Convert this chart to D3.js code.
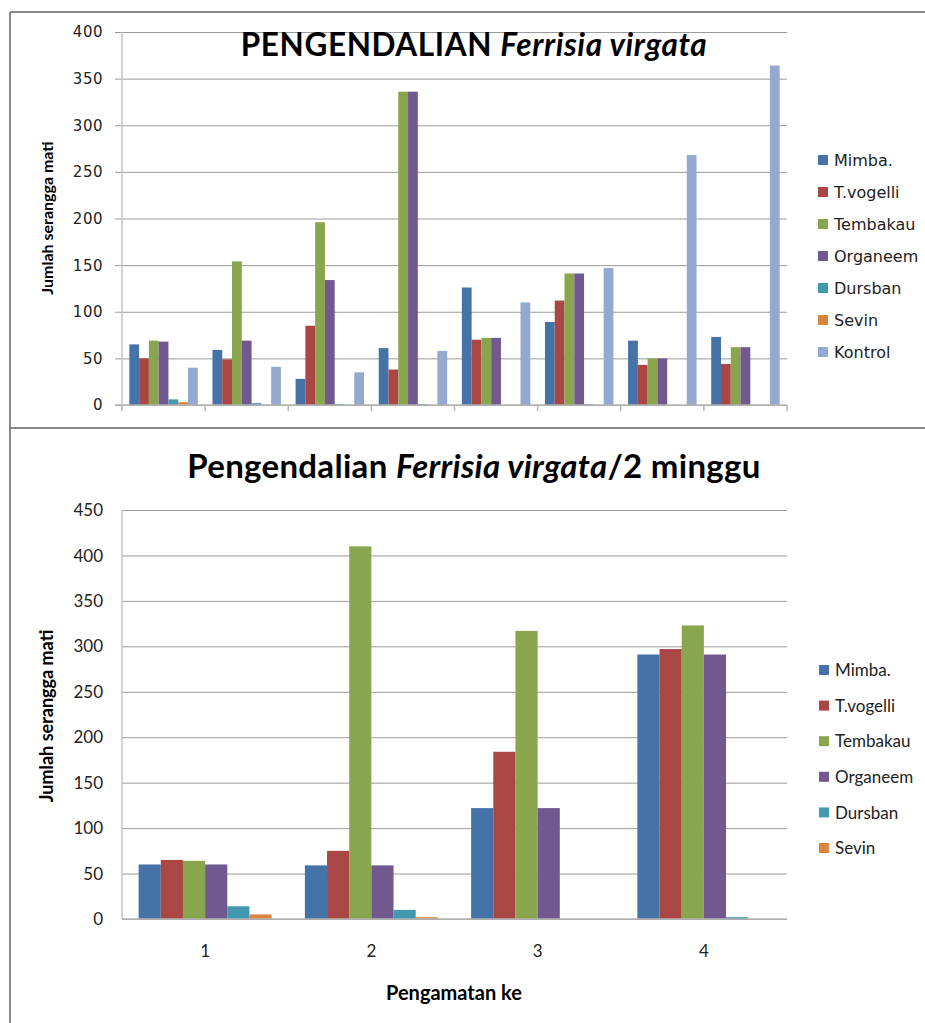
<!DOCTYPE html>
<html>
<head>
<meta charset="utf-8">
<script src="https://cdn.jsdelivr.net/npm/d3@7"></script>
<style>
  body { margin: 0; background: #fff; }
  svg { display: block; }
</style>
</head>
<body>
<svg width="925" height="1023"></svg>
<script>
// series names + excel 2007 default colours
const seriesNames = ["Mimba.", "T.vogelli", "Tembakau", "Organeem", "Dursban", "Sevin", "Kontrol"];
const seriesColors = ["#4572A7", "#AA4643", "#89A54E", "#71588F", "#4198AF", "#DB843D", "#93A9CF"];

// chart 1 : 8 observations, no category labels shown
const topCategories = ["1", "2", "3", "4", "5", "6", "7", "8"];
const mimbaTop    = [65, 59, 28, 61, 126, 89, 69, 73];
const tvogelliTop = [50, 49, 85, 38, 70, 112, 43, 44];
const tembakauTop = [69, 154, 196, 336, 72, 141, 50, 62];
const organeemTop = [68, 69, 134, 336, 72, 141, 50, 62];
const dursbanTop  = [6, 2, 1, 1, 0, 1, 0, 0];
const sevinTop    = [3, 0, 0, 0, 0, 0, 0, 0];
const kontrolTop  = [40, 41, 35, 58, 110, 147, 268, 364];
const topTicks = [0, 50, 100, 150, 200, 250, 300, 350, 400];

// chart 2 : per 2 weeks
const bottomCategories = ["1", "2", "3", "4"];
const mimbaBottom    = [60, 59, 122, 291];
const tvogelliBottom = [65, 75, 184, 297];
const tembakauBottom = [64, 410, 317, 323];
const organeemBottom = [60, 59, 122, 291];
const dursbanBottom  = [14, 10, 0, 2];
const sevinBottom    = [5, 2, 0, 0];
const bottomTicks = [0, 50, 100, 150, 200, 250, 300, 350, 400, 450];

const svg = d3.select("svg");

// frame lines
svg.append("rect").attr("width", 925).attr("height", 1023).attr("fill", "#fff");
const frame = svg.append("g").attr("stroke", "#888").attr("stroke-width", 2);
frame.append("line").attr("x1", 10).attr("y1", 12).attr("x2", 10).attr("y2", 1023);
frame.append("line").attr("x1", 10).attr("y1", 12).attr("x2", 925).attr("y2", 12);
frame.append("line").attr("x1", 10).attr("y1", 428).attr("x2", 925).attr("y2", 428);

/**
 * draws one clustered column chart
 */
function drawChart(opt) {
  const g = svg.append("g");
  const names = seriesNames.slice(0, opt.series.length);

  const y = d3.scaleLinear().domain([0, opt.max]).range([opt.bottom, opt.top]);
  const x0 = d3.scaleBand().domain(opt.categories).range([opt.left, opt.right]);
  // gap width 150% like excel
  const pad = x0.bandwidth() * 0.75 / (names.length + 1.5);
  const x1 = d3.scaleBand().domain(names).range([pad, x0.bandwidth() - pad]);

  // gridlines
  const grid = d3.axisLeft(y).tickValues(opt.ticks)
    .tickSize(-(opt.right - opt.left)).tickFormat("");
  g.append("g")
    .attr("transform", "translate(" + opt.left + ",0)")
    .call(grid)
    .call(s => s.select(".domain").remove())
    .call(s => s.selectAll(".tick line").attr("stroke", "#9a9a9a").attr("x1", opt.tickOut ? -7 : 0));

  // tick labels
  g.append("g")
    .selectAll("text")
    .data(opt.ticks)
    .enter().append("text")
    .attr("x", 103)
    .attr("y", d => y(d))
    .attr("dy", "0.36em")
    .attr("text-anchor", "end")
    .attr("font-family", opt.tickFont)
    .attr("font-size", opt.tickSize)
    .attr("letter-spacing", opt.tickSpacing || 0)
    .attr("fill", "#222")
    .text(d => d);

  // bars
  const groups = g.append("g").selectAll("g")
    .data(opt.categories)
    .enter().append("g")
    .attr("transform", d => "translate(" + x0(d) + ",0)");

  groups.selectAll("rect")
    .data((d, i) => names.map((n, k) => ({ name: n, value: opt.series[k][i], color: seriesColors[k] })))
    .enter().append("rect")
    .attr("x", d => x1(d.name))
    .attr("width", x1.bandwidth())
    .attr("y", d => y(d.value))
    .attr("height", d => y(0) - y(d.value))
    .attr("fill", d => d.color);

  // axis lines
  g.append("line")
    .attr("x1", opt.left).attr("x2", opt.left)
    .attr("y1", opt.top).attr("y2", opt.bottom)
    .attr("stroke", "#c4c4c4").attr("stroke-width", 1.5);
  g.append("line")
    .attr("x1", opt.left - (opt.tickOut ? 7 : 0)).attr("x2", opt.right)
    .attr("y1", y(0)).attr("y2", y(0))
    .attr("stroke", "#b4b4b4").attr("stroke-width", 1.5);

  if (opt.catTicks) {
    g.append("g").selectAll("line")
      .data(opt.categories.concat(["end"]))
      .enter().append("line")
      .attr("x1", (d, i) => opt.left + i * x0.step())
      .attr("x2", (d, i) => opt.left + i * x0.step())
      .attr("y1", y(0)).attr("y2", y(0) + 6)
      .attr("stroke", "#b4b4b4").attr("stroke-width", 1.5);
  }

  if (opt.catLabels) {
    g.append("g").selectAll("text")
      .data(opt.categories)
      .enter().append("text")
      .attr("x", d => x0(d) + x0.bandwidth() / 2)
      .attr("y", y(0) + 32)
      .attr("dy", "0.36em")
      .attr("text-anchor", "middle")
      .attr("font-family", opt.tickFont)
      .attr("font-size", opt.tickSize)
      .attr("fill", "#222")
      .text(d => d);
  }

  // y title
  g.append("text")
    .attr("transform", "translate(" + 47 + "," + opt.yTitleY + ") rotate(-90)")
    .attr("text-anchor", "middle")
    .attr("dy", "0.36em")
    .attr("font-family", "Lato")
    .attr("font-weight", "bold")
    .attr("font-size", opt.yTitleSize)
    .text("Jumlah serangga mati");

  // chart title
  const t = g.append("text")
    .attr("x", 474)
    .attr("y", opt.titleY)
    .attr("text-anchor", "middle")
    .attr("font-family", "Lato")
    .attr("font-weight", "bold")
    .attr("font-size", opt.titleSize)
    .attr("letter-spacing", opt.titleSpacing || 0);
  t.append("tspan").text(opt.title[0]);
  t.append("tspan").attr("font-style", "italic").text(opt.title[1]);
  t.append("tspan").text(opt.title[2]);

  // legend
  const leg = g.append("g").selectAll("g")
    .data(names)
    .enter().append("g")
    .attr("transform", (d, i) => "translate(" + opt.legendX + "," + (opt.legendY + i * opt.legendStep) + ")");
  leg.append("rect")
    .attr("x", 0).attr("y", -5)
    .attr("width", 10).attr("height", 10)
    .attr("fill", (d, i) => seriesColors[i]);
  leg.append("text")
    .attr("x", 16)
    .attr("dy", "0.36em")
    .attr("font-family", opt.legendFont)
    .attr("font-size", opt.legendSize)
    .attr("fill", "#222")
    .text(d => d);

  return g;
}

drawChart({
  categories: topCategories,
  series: [mimbaTop, tvogelliTop, tembakauTop, organeemTop, dursbanTop, sevinTop, kontrolTop],
  max: 400, ticks: topTicks,
  left: 122, right: 787, top: 32, bottom: 405,
  tickOut: true, catTicks: true, catLabels: false,
  tickFont: "DejaVu Sans", tickSize: 15, tickSpacing: 0.5,
  legendFont: "DejaVu Sans", legendSize: 16,
  legendX: 818, legendY: 160, legendStep: 32,
  yTitleY: 218, yTitleSize: 16,
  title: ["PENGENDALIAN ", "Ferrisia virgata", ""], titleY: 56, titleSize: 31.5, titleSpacing: 0.6
});

const bottom = drawChart({
  categories: bottomCategories,
  series: [mimbaBottom, tvogelliBottom, tembakauBottom, organeemBottom, dursbanBottom, sevinBottom],
  max: 450, ticks: bottomTicks,
  left: 122, right: 787, top: 510, bottom: 919,
  tickOut: false, catTicks: false, catLabels: true,
  tickFont: "Lato", tickSize: 17,
  legendFont: "Lato", legendSize: 17,
  legendX: 819, legendY: 670, legendStep: 35.6,
  yTitleY: 716, yTitleSize: 18,
  title: ["Pengendalian ", "Ferrisia virgata", "/2 minggu"], titleY: 478, titleSize: 33, titleSpacing: 0.3
});

// x axis title of lower chart
bottom.append("text")
  .attr("x", 454)
  .attr("y", 993)
  .attr("dy", "0.36em")
  .attr("text-anchor", "middle")
  .attr("font-family", "Lato")
  .attr("font-weight", "bold")
  .attr("font-size", 20)
  .text("Pengamatan ke");
</script>
</body>
</html>
